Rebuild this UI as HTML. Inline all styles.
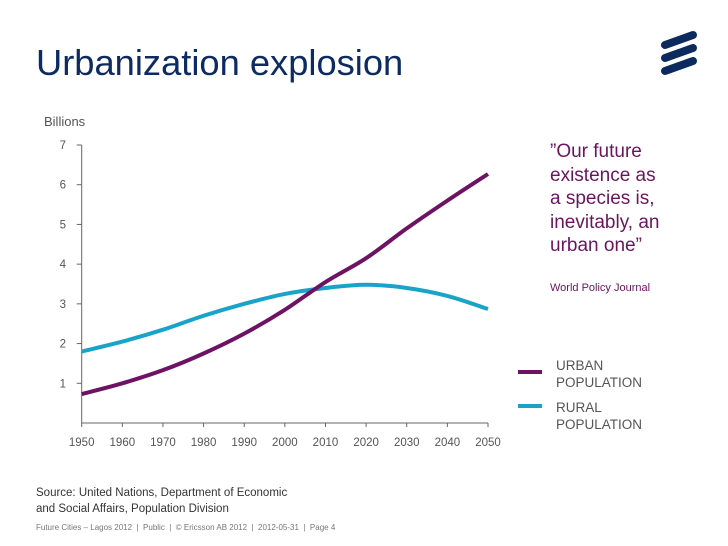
<!DOCTYPE html>
<html><head><meta charset="utf-8"><style>
body{margin:0;width:728px;height:546px;background:#fff;font-family:"Liberation Sans",sans-serif;position:relative;overflow:hidden}
.a{position:absolute;margin:0}
</style></head><body>
<h1 class="a" style="left:36px;top:42px;font-size:36.3px;font-weight:normal;color:#0d2a63">Urbanization explosion</h1>
<svg class="a" style="left:650px;top:22px" width="60" height="60">
<g stroke="#0d2a5e" stroke-width="8" stroke-linecap="round">
<line x1="15" y1="23" x2="43" y2="13"/><line x1="15" y1="36" x2="43" y2="26"/><line x1="15" y1="49" x2="43" y2="39"/></g></svg>
<div class="a" style="left:44px;top:114px;font-size:13px;color:#555">Billions</div>
<svg class="a" id="chart" style="left:0;top:0" width="728" height="546"></svg>
<div class="a" style="left:550px;top:140px;font-size:19px;line-height:23.5px;color:#6b1460">”Our future<br>existence as<br>a species is,<br>inevitably, an<br>urban one”</div>
<div class="a" style="left:550px;top:282px;font-size:11px;color:#6b1460">World Policy Journal</div>
<div class="a" style="left:518px;top:357px">
<div class="a" style="left:0;top:13px;width:24px;height:4px;background:#6e1264"></div>
<div class="a" style="left:38px;top:0;font-size:13.5px;line-height:17px;color:#555;width:120px">URBAN<br>POPULATION</div></div>
<div class="a" style="left:518px;top:399px">
<div class="a" style="left:0;top:5px;width:24px;height:4px;background:#19a3c9"></div>
<div class="a" style="left:38px;top:0;font-size:13.5px;line-height:17px;color:#555;width:120px">RURAL<br>POPULATION</div></div>
<div class="a" style="left:36px;top:485px;font-size:11.5px;line-height:16px;color:#333">Source: United Nations, Department of Economic<br>and Social Affairs, Population Division</div>
<div class="a" style="left:36px;top:523px;font-size:8px;color:#777">Future Cities – Lagos 2012 &nbsp;|&nbsp; Public &nbsp;|&nbsp; © Ericsson AB 2012 &nbsp;|&nbsp; 2012-05-31 &nbsp;|&nbsp; Page 4</div>
<script>
const years=[1950,1960,1970,1980,1990,2000,2010,2020,2030,2040,2050];
const urban=[0.73,1.0,1.33,1.75,2.25,2.85,3.55,4.15,4.9,5.6,6.27];
const rural=[1.8,2.05,2.35,2.7,3.0,3.25,3.4,3.48,3.4,3.2,2.87];
const yTicks=[1,2,3,4,5,6,7];
const svg=document.getElementById('chart');
const NS='http://www.w3.org/2000/svg';
const x=v=>81.7+(v-1950)*(488-81.7)/100;
const y=v=>423-v*(423-145)/7;
function mk(t,a){const e=document.createElementNS(NS,t);for(const k in a)e.setAttribute(k,a[k]);svg.appendChild(e);return e;}
let ax=mk('path',{d:`M${x(1950)},${y(7)}V${y(0)}H${x(2050)}`,stroke:'#666',fill:'none','stroke-width':1});


yTicks.forEach(v=>{
 const l=mk('line',{x1:x(1950)-5,x2:x(1950),y1:y(v),y2:y(v),stroke:'#666'});
 
 
 const t=mk('text',{x:66,y:y(v)+4,'text-anchor':'end','font-size':11.5,fill:'#555'});t.textContent=v;
 
 
});
years.forEach(v=>{
 const l=mk('line',{x1:x(v),x2:x(v),y1:y(0),y2:y(0)+4,stroke:'#666'});
 
 
 const t=mk('text',{x:x(v),y:y(0)+23,'text-anchor':'middle','font-size':11.5,fill:'#555'});t.textContent=v;
 
 
});
function smooth(vals){
 const p=vals.map((v,i)=>[x(years[i]),y(v)]);
 let d=`M${p[0][0]},${p[0][1]}`;
 for(let i=0;i<p.length-1;i++){
  const p0=p[Math.max(0,i-1)],p1=p[i],p2=p[i+1],p3=p[Math.min(p.length-1,i+2)];
  d+=`C${p1[0]+(p2[0]-p0[0])/6},${p1[1]+(p2[1]-p0[1])/6} ${p2[0]-(p3[0]-p1[0])/6},${p2[1]-(p3[1]-p1[1])/6} ${p2[0]},${p2[1]}`;
 }
 return d;
}
const r=mk('path',{d:smooth(rural),stroke:'#19a3c9','stroke-width':4,fill:'none'});


const u=mk('path',{d:smooth(urban),stroke:'#6e1264','stroke-width':4,fill:'none'});


</script>
</body></html>
